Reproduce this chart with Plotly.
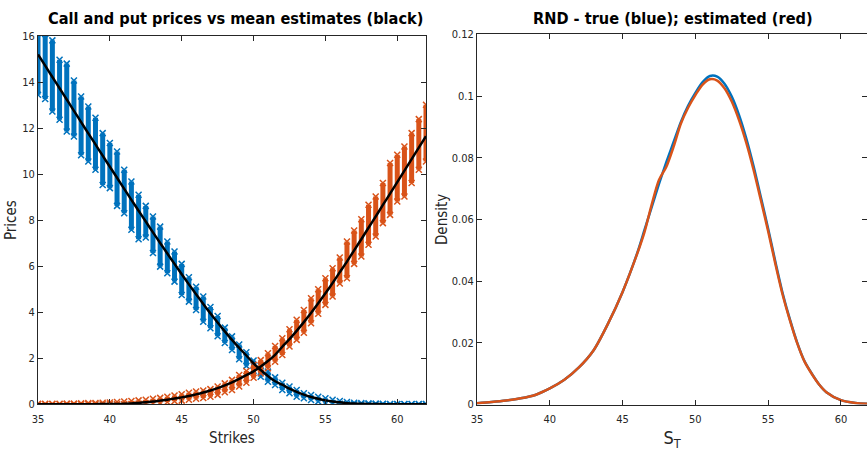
import plotly.graph_objects as go

# ---------------- data ----------------
strikes = [35, 35.5, 36, 36.5, 37, 37.5, 38, 38.5, 39, 39.5, 40, 40.5, 41, 41.5, 42, 42.5,
           43, 43.5, 44, 44.5, 45, 45.5, 46, 46.5, 47, 47.5, 48, 48.5, 49, 49.5, 50, 50.5,
           51, 51.5, 52, 52.5, 53, 53.5, 54, 54.5, 55, 55.5, 56, 56.5, 57, 57.5, 58, 58.5,
           59, 59.5, 60, 60.5, 61, 61.5, 62]

call_mean = [15.20, 14.71, 14.22, 13.73, 13.24, 12.75, 12.26, 11.77, 11.29, 10.80, 10.32, 9.84,
             9.36, 8.88, 8.41, 7.94, 7.47, 7.01, 6.55, 6.10, 5.65, 5.21, 4.78, 4.36, 3.95, 3.55,
             3.17, 2.80, 2.45, 2.12, 1.78, 1.49, 1.23, 1.00, 0.85, 0.68, 0.54, 0.42, 0.32, 0.24,
             0.17, 0.12, 0.085, 0.05, 0.035, 0.02, 0.015, 0.01, 0.006, 0.004, 0.002, 0.001,
             0.001, 0.0, 0.0]

put_mean = [0.0, 0.0, 0.0, 0.0, 0.001, 0.002, 0.003, 0.005, 0.007, 0.01, 0.013, 0.016, 0.02,
            0.03, 0.06, 0.09, 0.12, 0.16, 0.20, 0.25, 0.30, 0.36, 0.43, 0.51, 0.60, 0.70, 0.82,
            0.95, 1.10, 1.27, 1.43, 1.64, 1.88, 2.15, 2.50, 2.83, 3.19, 3.57, 3.97, 4.39, 4.82,
            5.27, 5.74, 6.20, 6.69, 7.17, 7.67, 8.16, 8.66, 9.15, 9.65, 10.15, 10.65, 11.15, 11.65]

call_low = [13.45, 13.26, 12.72, 12.36, 11.85, 11.63, 10.82, 10.55, 10.19, 9.53, 9.39, 8.62,
            8.30, 7.58, 7.17, 7.25, 6.57, 5.98, 5.69, 5.33, 4.75, 4.46, 4.10, 3.59, 3.30, 2.96,
            2.66, 2.36, 1.96, 1.67, 1.46, 1.20, 0.98, 0.84, 0.62, 0.48, 0.33, 0.26, 0.19, 0.12,
            0.07, 0.04, 0.02, 0.01, 0.0, 0.0, 0.0, 0.0, 0.0, 0.0, 0.0, 0.0, 0.0, 0.0, 0.0]
call_high = [16.13, 16.09, 15.81, 14.97, 14.80, 14.07, 13.37, 12.94, 12.45, 11.78, 11.35, 10.98,
             10.19, 9.68, 9.10, 8.62, 8.16, 7.72, 7.07, 6.64, 6.10, 5.52, 5.11, 4.68, 4.23, 3.84,
             3.33, 2.95, 2.60, 2.26, 1.90, 1.67, 1.42, 1.17, 0.94, 0.77, 0.62, 0.48, 0.40, 0.33,
             0.26, 0.20, 0.14, 0.10, 0.07, 0.05, 0.04, 0.03, 0.02, 0.01, 0.01, 0.01, 0.01, 0.01, 0.01]

put_low = [0.0, 0.0, 0.0, 0.0, 0.0, 0.0, 0.0, 0.0, 0.0, 0.0, 0.0, 0.0, 0.0, 0.01, 0.02, 0.03,
           0.05, 0.07, 0.10, 0.13, 0.16, 0.20, 0.24, 0.27, 0.33, 0.41, 0.52, 0.62, 0.77, 0.94,
           1.15, 1.35, 1.57, 1.85, 2.14, 2.51, 2.80, 3.11, 3.52, 3.93, 4.32, 4.68, 5.25, 5.48,
           6.10, 6.42, 6.93, 7.29, 7.87, 8.23, 8.81, 9.03, 9.61, 10.19, 10.55]
put_high = [0.02, 0.02, 0.02, 0.02, 0.03, 0.03, 0.04, 0.05, 0.06, 0.07, 0.08, 0.10, 0.12, 0.14,
            0.17, 0.20, 0.24, 0.28, 0.33, 0.38, 0.44, 0.50, 0.56, 0.60, 0.66, 0.77, 0.91, 1.06,
            1.27, 1.45, 1.72, 1.92, 2.22, 2.53, 2.87, 3.26, 3.67, 4.10, 4.61, 5.00, 5.48, 5.91,
            6.38, 7.07, 7.55, 8.04, 8.67, 9.03, 9.61, 10.48, 10.84, 11.20, 11.78, 12.39, 13.01]

s_t = [35, 36, 37, 38, 39, 40, 41, 42, 43, 44, 45, 46, 46.5, 47, 47.5, 48, 48.5, 49, 49.5, 50,
       50.5, 51, 51.5, 52, 52.5, 53, 53.5, 54, 54.5, 55, 55.5, 56, 56.5, 57, 57.5, 58, 58.5,
       59, 60, 61, 62]
rnd_true = [0.0004, 0.0008, 0.0013, 0.0020, 0.0031, 0.0052, 0.0080, 0.0120, 0.0175, 0.0262,
            0.0365, 0.0490, 0.0565, 0.0640, 0.0715, 0.0785, 0.0850, 0.0915, 0.0968, 0.1010,
            0.1045, 0.1065, 0.1063, 0.1040, 0.0998, 0.0938, 0.0862, 0.0772, 0.0672, 0.0570,
            0.0462, 0.0360, 0.0275, 0.0200, 0.0140, 0.0100, 0.0065, 0.0040, 0.0014, 0.0005, 0.0002]
rnd_est = [0.0004, 0.0008, 0.0013, 0.0020, 0.0031, 0.0052, 0.0080, 0.0120, 0.0175, 0.0262,
           0.0365, 0.0488, 0.0558, 0.0648, 0.0728, 0.0770, 0.0835, 0.0910, 0.0962, 0.1003,
           0.1037, 0.1054, 0.1050, 0.1025, 0.0982, 0.0922, 0.0848, 0.0760, 0.0662, 0.0562,
           0.0455, 0.0355, 0.0272, 0.0198, 0.0139, 0.0099, 0.0065, 0.0040, 0.0014, 0.0005, 0.0002]

x_ticks = [35, 40, 45, 50, 55, 60]
price_ticks = [0, 2, 4, 6, 8, 10, 12, 14, 16]
dens_ticks = [0, 0.02, 0.04, 0.06, 0.08, 0.1, 0.12]
dens_tick_text = ["0", "0.02", "0.04", "0.06", "0.08", "0.1", "0.12"]

BLUE = "#0072BD"
RED = "#D95319"
AX = "#262626"
NARROW = "DejaVu Sans Condensed, Liberation Sans Narrow, Arial Narrow, sans-serif"


def columns(xs, lo, hi):
    px, py = [], []
    for k, a, b in zip(xs, lo, hi):
        px += [k, k, None]
        py += [a, b, None]
    return px, py


fig = go.Figure()

for lo, hi, col in [(call_low, call_high, BLUE), (put_low, put_high, RED)]:
    cx, cy = columns(strikes, lo, hi)
    fig.add_trace(go.Scatter(x=cx, y=cy, mode="lines", line=dict(color=col, width=5),
                             connectgaps=False, hoverinfo="skip", showlegend=False,
                             xaxis="x", yaxis="y"))
    fig.add_trace(go.Scatter(x=strikes + strikes, y=lo + hi, mode="markers",
                             marker=dict(symbol="x-thin", size=6, line=dict(color=col, width=1.5)),
                             showlegend=False, xaxis="x", yaxis="y"))

for m in (call_mean, put_mean):
    fig.add_trace(go.Scatter(x=strikes, y=m, mode="lines",
                             line=dict(color="black", width=2.5, shape="spline", smoothing=0.6),
                             showlegend=False, xaxis="x", yaxis="y"))

fig.add_trace(go.Scatter(x=s_t, y=rnd_true, mode="lines",
                         line=dict(color=BLUE, width=2.5, shape="spline", smoothing=0.8),
                         showlegend=False, xaxis="x2", yaxis="y2"))
fig.add_trace(go.Scatter(x=s_t, y=rnd_est, mode="lines",
                         line=dict(color=RED, width=2.5, shape="spline", smoothing=0.8),
                         showlegend=False, xaxis="x2", yaxis="y2"))

common = dict(showline=True, linecolor=AX, linewidth=1, mirror="allticks", ticks="inside",
              ticklen=5, tickcolor=AX, showgrid=False, zeroline=False, automargin=False,
              tickfont=dict(family=NARROW, size=11, color=AX))

W, H = 867, 456
fig.update_layout(
    width=W, height=H, paper_bgcolor="white", plot_bgcolor="white", autosize=False,
    margin=dict(l=0, r=0, t=0, b=0, pad=0), showlegend=False,
    font=dict(family=NARROW, color=AX),
    xaxis=dict(domain=[38 / W, 426 / W], range=[35, 62], tickvals=x_ticks, ticklabelstandoff=4,
               title=dict(text="Strikes", font=dict(size=15, color=AX), standoff=7), **common),
    yaxis=dict(domain=[(H - 404.3) / H, (H - 36) / H], range=[0, 16], tickvals=price_ticks,
               title=dict(text="Prices", font=dict(size=15, color=AX), standoff=1), **common),
    xaxis2=dict(domain=[477 / W, 1.0], range=[35, 61.79], tickvals=x_ticks, anchor="y2",
                ticklabelstandoff=4,
                title=dict(text="S<sub>T</sub>", font=dict(size=18, color=AX), standoff=6), **common),
    yaxis2=dict(domain=[(H - 404.5) / H, (H - 34.3) / H], range=[0, 0.12], anchor="x2",
                tickvals=dens_ticks, ticktext=dens_tick_text,
                title=dict(text="Density", font=dict(size=15, color=AX), standoff=0), **common),
    annotations=[
        dict(text="<b>Call and put prices vs mean estimates (black)</b>", x=235 / W, y=(H - 18) / H,
             xref="paper", yref="paper", showarrow=False, xanchor="center", yanchor="middle",
             font=dict(family=NARROW, size=16.2, color="black")),
        dict(text="<b>RND - true (blue); estimated (red)</b>", x=673 / W, y=(H - 18) / H,
             xref="paper", yref="paper", showarrow=False, xanchor="center", yanchor="middle",
             font=dict(family=NARROW, size=16.2, color="black")),
    ],
)

fig.write_html("out.html", config={"displayModeBar": False},
               post_script="document.body.style.margin='0';")
